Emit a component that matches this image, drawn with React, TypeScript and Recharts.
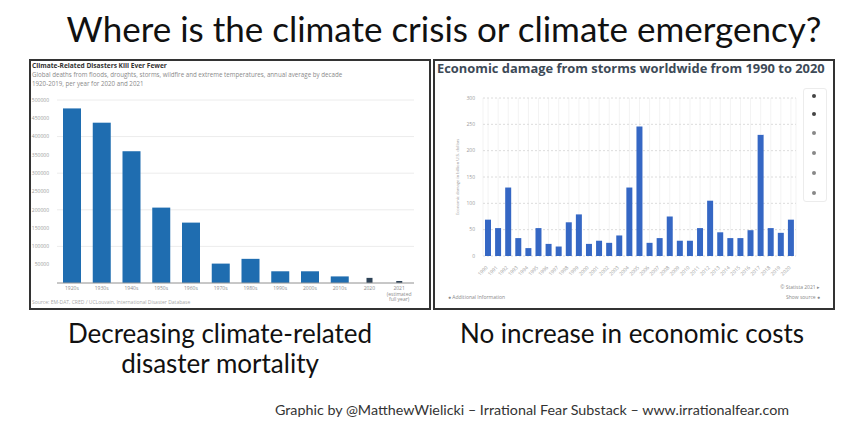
import React from 'react';
import { BarChart, Bar, XAxis, YAxis, CartesianGrid } from 'recharts';

// left panel: climate-related disaster deaths, annual average per decade
const decades = ['1920s', '1930s', '1940s', '1950s', '1960s', '1970s', '1980s', '1990s', '2000s', '2010s', '2020', '2021'];
const decadeLabels = [['1920s'], ['1930s'], ['1940s'], ['1950s'], ['1960s'], ['1970s'], ['1980s'], ['1990s'], ['2000s'], ['2010s'], ['2020'], ['2021', '(estimated', 'full year)']];
const deaths = [477000, 438000, 360000, 206000, 165000, 53000, 66000, 32000, 32000, 18000, 14000, 5500];
const deathTicks = [0, 50000, 100000, 150000, 200000, 250000, 300000, 350000, 400000, 450000, 500000];

// right panel: storm damage, billion US$
const stormYears = ['1990', '1991', '1992', '1993', '1994', '1995', '1996', '1997', '1998', '1999', '2000', '2001', '2002', '2003', '2004', '2005', '2006', '2007', '2008', '2009', '2010', '2011', '2012', '2013', '2014', '2015', '2016', '2017', '2018', '2019', '2020'];
const stormDamage = [69, 53, 130, 34, 15, 53, 23, 18, 64, 79, 23, 29, 25, 39, 130, 246, 25, 34, 75, 29, 29, 53, 105, 45, 34, 34, 49, 230, 53, 44, 69];
const damageTicks = [0, 50, 100, 150, 200, 250, 300];

const deathData = decades.map((d, i) => ({ decade: d, deaths: deaths[i], single: i >= 10 }));
const stormData = stormYears.map((y, i) => ({ year: y, damage: stormDamage[i] }));

const DecadeBar = (props: any) => {
  const { x, y, width, height, payload } = props;
  if (height <= 0) return null;
  const single = payload && payload.single;
  const w = single ? 6 : width;
  return <rect x={x + (width - w) / 2} y={y} width={w} height={height} fill={single ? '#2d4257' : '#1f6db0'} />;
};

const DecadeTick = (props: any) => {
  const { x, y, payload, index } = props;
  const lines = decadeLabels[index] ?? [payload.value];
  return (
    <text x={x} y={y} textAnchor="middle" fontSize={5} fill="#8a8a8a" fontFamily="Open Sans">
      {lines.map((l: string, i: number) => (
        <tspan key={i} x={x} dy={i === 0 ? 5 : 5.5}>{l}</tspan>
      ))}
    </text>
  );
};

const YearTick = (props: any) => {
  const { x, y, payload } = props;
  return (
    <text x={x} y={y + 4} textAnchor="end" fontSize={5} fill="#9a9a9a" fontFamily="Open Sans" transform={`rotate(-45 ${x} ${y + 4})`}>
      {payload.value}
    </text>
  );
};

const abs = (left: number, top: number, extra: React.CSSProperties = {}): React.CSSProperties => ({
  position: 'absolute',
  left,
  top,
  ...extra,
});

export default function App() {
  return (
    <div style={{ position: 'absolute', left: 0, top: 0, width: 848, height: 430, background: '#fff', fontFamily: 'Lato', overflow: 'hidden' }}>
      <div style={abs(40, 8, { width: 808, textAlign: 'center', fontSize: 35, lineHeight: '40px', color: '#111', whiteSpace: 'nowrap' })}>
        Where is the climate crisis or climate emergency?
      </div>

      {/* left panel */}
      <div style={abs(29, 59, { width: 398, height: 247, border: '2px solid #333' })} />
      <div style={abs(32, 62, { fontFamily: 'Open Sans', fontSize: 6.6, fontWeight: 700, color: '#333', lineHeight: '8px' })}>
        Climate-Related Disasters Kill Ever Fewer
      </div>
      <div style={abs(32, 70, { width: 390, fontFamily: 'Open Sans', fontSize: 6.2, color: '#8a8a8a', lineHeight: '9px' })}>
        Global deaths from floods, droughts, storms, wildfire and extreme temperatures, annual average by decade
        <br />
        1920-2019, per year for 2020 and 2021
      </div>
      <div style={abs(32, 299, { fontFamily: 'Open Sans', fontSize: 5, color: '#aaa' })}>
        Source: EM-DAT, CRED / UCLouvain, International Disaster Database
      </div>
      <div style={abs(28, 57)}>
        <BarChart width={400} height={250} data={deathData} margin={{ top: 43, right: 14, bottom: 4, left: 0 }} barCategoryGap={0}>
          <CartesianGrid vertical={false} stroke="#ececec" />
          <XAxis dataKey="decade" interval={0} tick={<DecadeTick />} tickLine={false} tickSize={0} tickMargin={2} axisLine={{ stroke: '#9a9a9a' }} height={20} />
          <YAxis
            domain={[0, 500000]}
            ticks={deathTicks}
            width={29}
            tick={{ fontSize: 5, fill: '#9a9a9a', fontFamily: 'Open Sans' }}
            tickFormatter={(v: number) => (v === 0 ? '' : String(v))}
            tickLine={false}
            axisLine={false}
          />
          <Bar dataKey="deaths" barSize={18} shape={<DecadeBar />} isAnimationActive={false} />
        </BarChart>
      </div>

      {/* right panel */}
      <div style={abs(433, 59, { width: 398, height: 247, border: '2px solid #333' })} />
      <div style={abs(437, 61, { fontFamily: 'Open Sans', fontSize: 12.9, fontWeight: 700, color: '#3d4a57', lineHeight: '15px', whiteSpace: 'nowrap' })}>
        Economic damage from storms worldwide from 1990 to 2020
      </div>
      <div style={abs(433, 57)}>
        <BarChart width={403} height={252} data={stormData} margin={{ top: 41, right: 40, bottom: 33, left: 20 }} barCategoryGap={0}>
          <CartesianGrid vertical stroke="#f3f3f3" horizontal={false} />
          <CartesianGrid vertical={false} stroke="#dcdcdc" strokeDasharray="2 2" />
          <XAxis dataKey="year" interval={0} tick={<YearTick />} tickLine={false} axisLine={false} height={20} />
          <YAxis
            domain={[0, 300]}
            ticks={damageTicks}
            width={30}
            tick={{ fontSize: 5, fill: '#9a9a9a', fontFamily: 'Open Sans' }}
            tickLine={false}
            axisLine={false}
            label={{ value: 'Economic damage in billion U.S. dollars', angle: -90, position: 'insideLeft', offset: 4, fontSize: 4.5, fill: '#aaa', style: { textAnchor: 'middle' } }}
          />
          <Bar dataKey="damage" barSize={6} fill="#3567c4" isAnimationActive={false} />
        </BarChart>
      </div>
      <div style={abs(803, 88, { width: 22, height: 112, border: '1px solid #ececec', borderRadius: 3 })} />
      {[96, 114, 133, 153, 173, 193].map((t, i) => (
        <div key={t} style={abs(812, t - 2, { width: 4, height: 4, borderRadius: 2, background: i < 2 ? '#444' : '#888' })} />
      ))}
      <div style={abs(700, 284, { width: 120, textAlign: 'right', fontFamily: 'Open Sans', fontSize: 5, color: '#888' })}>
        © Statista 2021 ▸
      </div>
      <div style={abs(700, 294, { width: 120, textAlign: 'right', fontFamily: 'Open Sans', fontSize: 5, color: '#888' })}>
        Show source ●
      </div>
      <div style={abs(448, 294, { fontFamily: 'Open Sans', fontSize: 5, color: '#888' })}>
        ● Additional Information
      </div>

      {/* captions */}
      <div style={abs(0, 318, { width: 440, textAlign: 'center', fontSize: 26, lineHeight: '30px', color: '#111' })}>
        Decreasing climate-related
        <br />
        disaster mortality
      </div>
      <div style={abs(432, 318, { width: 400, textAlign: 'center', fontSize: 26, lineHeight: '30px', color: '#111', whiteSpace: 'nowrap' })}>
        No increase in economic costs
      </div>
      <div style={abs(262, 402, { width: 540, textAlign: 'center', fontSize: 14.3, lineHeight: '16px', color: '#333', whiteSpace: 'nowrap' })}>
        Graphic by @MatthewWielicki – Irrational Fear Substack – www.irrationalfear.com
      </div>
    </div>
  );
}
